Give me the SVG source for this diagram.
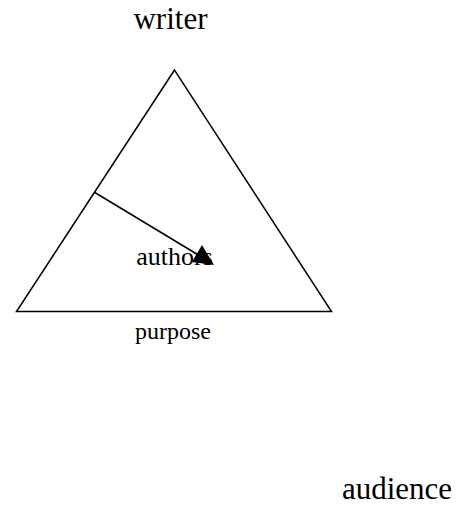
<svg xmlns="http://www.w3.org/2000/svg" width="460" height="506" viewBox="0 0 460 506">
<style>
.lbl{font-family:"Liberation Serif",serif;fill:#000;text-anchor:middle}
.ln{stroke:#000;stroke-width:1.5;fill:none}
</style>
<rect width="460" height="506" fill="#fff"/>
<g id="triangle"><polygon class="ln" points="174.5,70 16.5,311.5 331.5,311.5"/></g>
<g id="writer"><text class="lbl" x="170.5" y="29" font-size="31">writer</text></g>
<g id="purpose"><text class="lbl" x="173" y="339" font-size="24">purpose</text></g>
<g id="authors"><text class="lbl" x="174.5" y="265" font-size="26">authors</text></g>
<g id="audience"><text class="lbl" x="397" y="499" font-size="31">audience</text></g>
<g id="connectors">
<line class="ln" x1="94" y1="192" x2="205" y2="259"/>
<polygon points="202,245 192,262 214,265" fill="#000"/>
</g>
</svg>
